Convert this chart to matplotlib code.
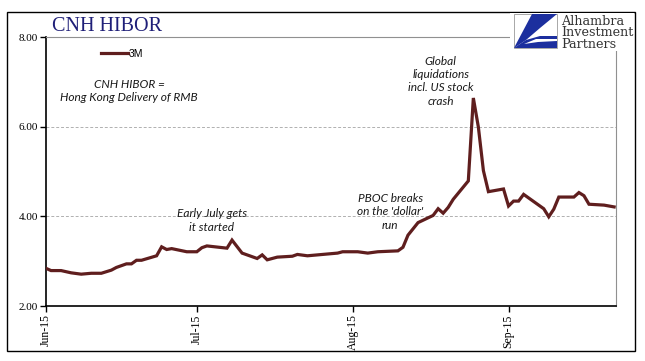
import numpy as np
import pandas as pd
import matplotlib.pyplot as plt
import matplotlib.dates as mdates
from matplotlib.patches import Rectangle, Polygon

# CNH HIBOR 3M
dates = ["2015-06-01", "2015-06-02", "2015-06-04", "2015-06-06", "2015-06-08",
         "2015-06-10", "2015-06-12", "2015-06-14", "2015-06-15", "2015-06-17",
         "2015-06-18", "2015-06-19", "2015-06-20", "2015-06-23", "2015-06-24",
         "2015-06-25", "2015-06-26", "2015-06-29", "2015-07-01", "2015-07-02",
         "2015-07-03", "2015-07-07", "2015-07-08", "2015-07-10", "2015-07-13",
         "2015-07-14", "2015-07-15", "2015-07-17", "2015-07-20", "2015-07-21",
         "2015-07-23", "2015-07-26", "2015-07-29", "2015-07-30", "2015-08-02",
         "2015-08-04", "2015-08-06", "2015-08-10", "2015-08-11", "2015-08-12",
         "2015-08-14", "2015-08-17", "2015-08-18", "2015-08-19", "2015-08-20",
         "2015-08-21", "2015-08-24", "2015-08-25", "2015-08-26", "2015-08-27",
         "2015-08-28", "2015-08-31", "2015-09-01", "2015-09-02", "2015-09-03",
         "2015-09-04", "2015-09-08", "2015-09-09", "2015-09-10", "2015-09-11",
         "2015-09-14", "2015-09-15", "2015-09-16", "2015-09-17", "2015-09-20",
         "2015-09-22"]
hibor_3m = [2.84, 2.79, 2.79, 2.74, 2.71,
            2.73, 2.73, 2.80, 2.86, 2.94,
            2.94, 3.02, 3.02, 3.12, 3.32,
            3.26, 3.28, 3.21, 3.21, 3.30,
            3.34, 3.29, 3.47, 3.18, 3.06,
            3.14, 3.03, 3.09, 3.11, 3.15,
            3.12, 3.15, 3.18, 3.21, 3.21,
            3.18, 3.21, 3.23, 3.31, 3.58,
            3.86, 4.02, 4.17, 4.07, 4.20,
            4.38, 4.79, 6.64, 5.99, 5.02,
            4.55, 4.61, 4.23, 4.34, 4.34,
            4.49, 4.17, 3.99, 4.16, 4.43,
            4.43, 4.53, 4.46, 4.27, 4.25,
            4.21]

month_ticks = ["2015-06-01", "2015-07-01", "2015-08-01", "2015-09-01"]
y_ticks = [2, 4, 6, 8]

notes = [
    ("CNH HIBOR =\nHong Kong Delivery of RMB", "2015-06-17 12:00", 7.07),
    ("Early July gets\nit started", "2015-07-04", 4.18),
    ("PBOC breaks\non the 'dollar'\nrun", "2015-08-08 12:00", 4.52),
    ("Global\nliquidations\nincl. US stock\ncrash", "2015-08-18 12:00", 7.58),
]

W, H = 645, 361
fig = plt.figure(figsize=(W / 100, H / 100), dpi=100)

def box(x0, y0, x1, y1):
    # pixel box (top-left origin) -> figure fraction rect
    return [x0 / W, 1 - y1 / H, (x1 - x0) / W, (y1 - y0) / H]

ax = fig.add_axes(box(46, 37, 616, 306))
x = pd.to_datetime(dates)
ax.plot(x, hibor_3m, color="#5f1e1e", lw=2.3, solid_joinstyle="miter",
        label="3M", zorder=3)

ax.set_ylim(2, 8)
ax.set_yticks(y_ticks)
ax.set_yticklabels([f"{v:.2f}" for v in y_ticks], family="Liberation Serif", fontsize=8)
ax.set_xlim(pd.Timestamp("2015-06-01"), pd.Timestamp("2015-09-22 09:00"))
ax.set_xticks(pd.to_datetime(month_ticks))
ax.xaxis.set_major_formatter(mdates.DateFormatter("%b-15"))
plt.setp(ax.get_xticklabels(), rotation=90, family="Liberation Serif", fontsize=8.5)
ax.tick_params(direction="out", length=4, width=1, color="black", pad=2)

for v in y_ticks[1:-1]:
    ax.axhline(v, color="#b0b0b0", lw=0.7, ls=(0, (3, 2)), zorder=1)

ax.spines["left"].set_color("black")
ax.spines["bottom"].set_color("black")
ax.spines["top"].set_color("#909090")
ax.spines["right"].set_color("#909090")
ax.spines["left"].set_linewidth(1.2)
ax.spines["bottom"].set_linewidth(1.2)

leg = ax.legend(loc="upper left", bbox_to_anchor=(0.08, 0.99), frameon=False,
                handlelength=2.6, prop={"family": "Liberation Sans", "size": 7.5},
                handletextpad=0.1)

for text, d, yv in notes:
    ax.text(pd.Timestamp(d), yv, text, ha="center", va="top", style="italic",
            family="Lato", fontsize=8.6, linespacing=1.25, color="#1a1a1a",
            zorder=4)

# title
fig.text(52 / W, 1 - 31 / H, "CNH HIBOR", family="Liberation Serif",
         fontsize=14.5, color="#1f1f78", va="baseline")

# outer frame
frame = fig.add_axes([0, 0, 1, 1], zorder=5)
frame.set_xlim(0, W)
frame.set_ylim(H, 0)
frame.axis("off")
frame.add_patch(Rectangle((7, 12), 628, 339, fill=False, ec="black", lw=1.0))

# logo block in the upper right corner
frame.add_patch(Rectangle((510, 13), 124, 38, fc="white", ec="none"))
frame.add_patch(Rectangle((514, 14), 43, 34, fc="white", ec="#9a9a9a", lw=0.6))
frame.add_patch(Polygon([(532, 14), (557, 14), (540, 28), (526, 40), (514, 48)],
                        closed=True, fc="#1c2f9e", ec="none"))
frame.add_patch(Polygon([(526, 40), (540, 36), (557, 36), (557, 48), (514, 48)],
                        closed=True, fc="#1c2f9e", ec="none"))
frame.add_patch(Polygon([(524, 44), (536, 39), (557, 39), (557, 41), (538, 42)],
                        closed=True, fc="white", ec="none"))
for i, word in enumerate(["Alhambra", "Investment", "Partners"]):
    frame.text(561, 25 + i * 11.5, word, family="DejaVu Serif", fontsize=9.2,
               color="#333333", va="baseline")

fig.savefig("out.png", dpi=100)
